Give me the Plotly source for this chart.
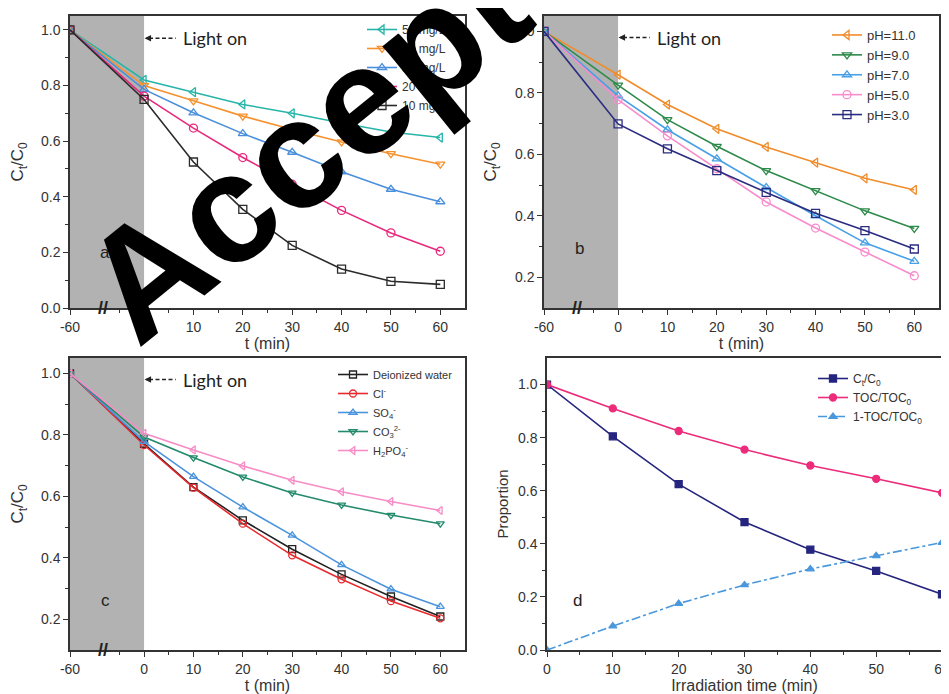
import plotly.graph_objects as go

# ---------------- data ----------------
t_abc = [-60, 0, 10, 20, 30, 40, 50, 60]
t_d = [0, 10, 20, 30, 40, 50, 60]
x_ticks_abc = [-60, 0, 10, 20, 30, 40, 50, 60]

a_names = ["50 mg/L", "40 mg/L", "30 mg/L", "20 mg/L", "10 mg/L"]
a_50 = [1.0, 0.82, 0.776, 0.732, 0.700, 0.665, 0.633, 0.613]
a_40 = [1.0, 0.80, 0.745, 0.690, 0.642, 0.597, 0.555, 0.517]
a_30 = [1.0, 0.786, 0.702, 0.627, 0.560, 0.490, 0.427, 0.382]
a_20 = [1.0, 0.762, 0.647, 0.541, 0.445, 0.351, 0.270, 0.204]
a_10 = [1.0, 0.750, 0.525, 0.355, 0.225, 0.140, 0.096, 0.085]

b_names = ["pH=11.0", "pH=9.0", "pH=7.0", "pH=5.0", "pH=3.0"]
b_11 = [1.0, 0.859, 0.762, 0.683, 0.624, 0.573, 0.522, 0.484]
b_9 = [1.0, 0.825, 0.713, 0.626, 0.547, 0.482, 0.416, 0.359]
b_7 = [1.0, 0.790, 0.680, 0.585, 0.492, 0.400, 0.312, 0.252]
b_5 = [1.0, 0.778, 0.660, 0.553, 0.445, 0.360, 0.282, 0.205]
b_3 = [1.0, 0.699, 0.618, 0.547, 0.476, 0.408, 0.352, 0.292]

c_names = ["Deionized water", "Cl<sup>-</sup>", "SO<sub>4</sub><sup>-</sup>",
           "CO<sub>3</sub><sup>2-</sup>", "H<sub>2</sub>PO<sub>4</sub><sup>-</sup>"]
c_di = [1.0, 0.771, 0.630, 0.522, 0.428, 0.346, 0.274, 0.209]
c_cl = [1.0, 0.767, 0.628, 0.511, 0.408, 0.330, 0.259, 0.203]
c_so4 = [1.0, 0.778, 0.664, 0.565, 0.473, 0.377, 0.298, 0.241]
c_co3 = [1.0, 0.793, 0.726, 0.663, 0.611, 0.572, 0.539, 0.511]
c_h2po4 = [1.0, 0.805, 0.751, 0.699, 0.652, 0.615, 0.583, 0.554]

d_names = ["C<sub>t</sub>/C<sub>0</sub>", "TOC/TOC<sub>0</sub>", "1-TOC/TOC<sub>0</sub>"]
d_ct = [1.0, 0.805, 0.625, 0.482, 0.378, 0.298, 0.210]
d_toc = [1.0, 0.910, 0.825, 0.755, 0.695, 0.645, 0.592]
d_1toc = [0.0, 0.090, 0.175, 0.245, 0.305, 0.355, 0.405]

# broken time axis: the -60 min point is drawn at a compressed position
BREAK_POS = -15


def xmap(t):
    return t if t >= 0 else BREAK_POS


W, H = 949, 694
PAGE_OFF = 8  # default body margin of the html page


def px(x):
    return (x - PAGE_OFF) / W


def py(y):
    return 1 - (y - PAGE_OFF) / H


FONT = "Liberation Sans, Arial, sans-serif"
AX = "#333333"

fig = go.Figure()


def add_series(xs, ys, name, color, symbol, xa, ya, legend, dash="solid", size=8):
    fig.add_trace(go.Scatter(
        x=[xmap(v) for v in xs], y=ys, name=name, mode="lines+markers",
        line=dict(color=color, width=1.6, dash=dash),
        marker=dict(symbol=symbol, size=size, color=color,
                    line=dict(color=color, width=1.3)),
        xaxis=xa, yaxis=ya, legend=legend))


# panel a
for ys, nm, col, sym in zip([a_50, a_40, a_30, a_20, a_10], a_names,
                            ["#26b5a8", "#f5922f", "#4a8fdb", "#e8297d", "#2b2b2b"],
                            ["triangle-left-open", "triangle-down-open", "triangle-up-open",
                             "circle-open", "square-open"]):
    add_series(t_abc, ys, nm, col, sym, "x", "y", "legend")

# panel b
for ys, nm, col, sym in zip([b_11, b_9, b_7, b_5, b_3], b_names,
                            ["#f08c2a", "#2e8a4a", "#48a0e6", "#f78ccc", "#2a2c80"],
                            ["triangle-left-open", "triangle-down-open", "triangle-up-open",
                             "circle-open", "square-open"]):
    add_series(t_abc, ys, nm, col, sym, "x2", "y2", "legend2")

# panel c
for ys, nm, col, sym in zip([c_di, c_cl, c_so4, c_co3, c_h2po4], c_names,
                            ["#222222", "#e82a2e", "#4a93dd", "#238a6c", "#f78cc6"],
                            ["square-open", "circle-open", "triangle-up-open",
                             "triangle-down-open", "triangle-left-open"]):
    add_series(t_abc, ys, nm, col, sym, "x3", "y3", "legend3", size=7)

# panel d
add_series(t_d, d_ct, d_names[0], "#25257f", "square", "x4", "y4", "legend4", size=7)
add_series(t_d, d_toc, d_names[1], "#ec2b7b", "circle", "x4", "y4", "legend4", size=7)
add_series(t_d, d_1toc, d_names[2], "#4a98dc", "triangle-up", "x4", "y4", "legend4",
           dash="dashdot", size=7)

# ---------------- layout ----------------
dom_x_left = [px(70), px(465)]
dom_x_right_b = [px(544), px(939)]
dom_x_right_d = [px(547), px(942)]
dom_y_top = [py(308), py(16)]
dom_y_bot = [py(650), py(358)]


def xaxis(domain, anchor, title, broken=True):
    d = dict(domain=domain, anchor=anchor, showgrid=False, zeroline=False, automargin=False,
             showline=True, linecolor=AX, linewidth=1.5, mirror=True,
             ticks="outside", ticklen=5, tickwidth=1.3, tickcolor=AX,
             tickfont=dict(family=FONT, size=14, color=AX),
             title=dict(text=title, font=dict(family=FONT, size=16, color=AX), standoff=4))
    if broken:
        d.update(range=[BREAK_POS, 65], tickmode="array",
                 tickvals=[xmap(v) for v in x_ticks_abc],
                 ticktext=[str(v) for v in x_ticks_abc],
                 minor=dict(tickmode="array", tickvals=[-5, 5, 15, 25, 35, 45, 55],
                            ticks="outside", ticklen=3, tickcolor=AX, tickwidth=1.2))
    else:
        d.update(range=[0, 60], tickmode="array", tickvals=t_d,
                 minor=dict(tickmode="array", tickvals=[5, 15, 25, 35, 45, 55],
                            ticks="outside", ticklen=3, tickcolor=AX, tickwidth=1.2))
    return d


def yaxis(domain, anchor, rng, tickvals, minorvals, title, tsize=17, standoff=14):
    return dict(domain=domain, anchor=anchor, range=rng, showgrid=False, zeroline=False,
                automargin=False,
                showline=True, linecolor=AX, linewidth=1.5, mirror=True,
                ticks="outside", ticklen=5, tickwidth=1.3, tickcolor=AX,
                tickmode="array", tickvals=tickvals, tickformat=".1f",
                tickfont=dict(family=FONT, size=14, color=AX),
                minor=dict(tickmode="array", tickvals=minorvals, ticks="outside",
                           ticklen=3, tickcolor=AX, tickwidth=1.2),
                title=dict(text=title, font=dict(family=FONT, size=tsize, color=AX),
                           standoff=standoff))


ct_title = "C<sub>t</sub>/C<sub>0</sub>"
fig.update_layout(
    width=W, height=H, margin=dict(l=0, r=0, t=0, b=0),
    paper_bgcolor="white", plot_bgcolor="white",
    xaxis=xaxis(dom_x_left, "y", "t (min)"),
    yaxis=yaxis(dom_y_top, "x", [0, 1.05], [0, 0.2, 0.4, 0.6, 0.8, 1.0],
                [0.1, 0.3, 0.5, 0.7, 0.9], ct_title),
    xaxis2=xaxis(dom_x_right_b, "y2", "t (min)"),
    yaxis2=yaxis(dom_y_top, "x2", [0.1, 1.05], [0.2, 0.4, 0.6, 0.8, 1.0],
                 [0.3, 0.5, 0.7, 0.9], ct_title),
    xaxis3=xaxis(dom_x_left, "y3", "t (min)"),
    yaxis3=yaxis(dom_y_bot, "x3", [0.1, 1.05], [0.2, 0.4, 0.6, 0.8, 1.0],
                 [0.3, 0.5, 0.7, 0.9], ct_title),
    xaxis4=xaxis(dom_x_right_d, "y4", "Irradiation time (min)", broken=False),
    yaxis4=yaxis(dom_y_bot, "x4", [0, 1.1], [0, 0.2, 0.4, 0.6, 0.8, 1.0],
                 [0.1, 0.3, 0.5, 0.7, 0.9], "Proportion", tsize=15, standoff=6),
)

leg_common = dict(bgcolor="rgba(0,0,0,0)", borderwidth=0, xanchor="left", yanchor="top",
                  traceorder="normal", itemwidth=30)
fig.update_layout(
    legend=dict(x=px(362), y=py(15), font=dict(family=FONT, size=12, color=AX), **leg_common),
    legend2=dict(x=px(827), y=py(20), font=dict(family=FONT, size=13, color=AX), **leg_common),
    legend3=dict(x=px(333), y=py(360), font=dict(family=FONT, size=11, color=AX), **leg_common),
    legend4=dict(x=px(813), y=py(364), font=dict(family=FONT, size=12, color=AX), **leg_common),
)

shapes = []
annotations = []
panels = [("x", "y", "a", 0.20, 0.97), ("x2", "y2", "b", 0.295, 0.98),
          ("x3", "y3", "c", 0.26, 0.98)]
for xa, ya, lab, ylab, ylight in panels:
    shapes.append(dict(type="rect", xref=xa, yref=ya + " domain", x0=BREAK_POS, x1=0,
                       y0=0, y1=1, fillcolor="#b2b2b2", line=dict(width=0), layer="below"))
    shapes.append(dict(type="line", xref=xa, yref=ya, x0=1.0, x1=6.4, y0=ylight, y1=ylight,
                       line=dict(color="#222222", width=1.4, dash="4px,2.5px")))
    annotations.append(dict(xref=xa, yref=ya, x=0.1, y=ylight, ax=1.5, ay=ylight,
                            axref=xa, ayref=ya, text="", showarrow=True, arrowhead=2,
                            arrowsize=1, arrowwidth=1.3, arrowcolor="#222222"))
    annotations.append(dict(xref=xa, yref=ya, x=7.4, y=ylight, text="Light on",
                            showarrow=False, xanchor="left", yanchor="middle",
                            font=dict(family="Lato, Open Sans, sans-serif", size=18,
                                      color="#222222")))
    annotations.append(dict(xref=xa, yref=ya, x=-7.9, y=ylab, text=lab, showarrow=False,
                            font=dict(family=FONT, size=17, color="#222222")))
    annotations.append(dict(xref=xa, yref=ya + " domain", x=-8.3, y=0.0, text="<b>//</b>",
                            showarrow=False, yanchor="middle",
                            font=dict(family=FONT, size=18, color="#222222")))

annotations.append(dict(xref="x4", yref="y4", x=4.7, y=0.185, text="d", showarrow=False,
                        font=dict(family=FONT, size=17, color="#222222")))

# watermark
annotations.append(dict(xref="paper", yref="paper", x=px(375), y=py(88), text="<b>Accepted</b>",
                        showarrow=False, textangle=-39, xanchor="center", yanchor="middle",
                        font=dict(family=FONT, size=155, color="black")))

fig.update_layout(shapes=shapes, annotations=annotations)

fig.write_html("out.html")
